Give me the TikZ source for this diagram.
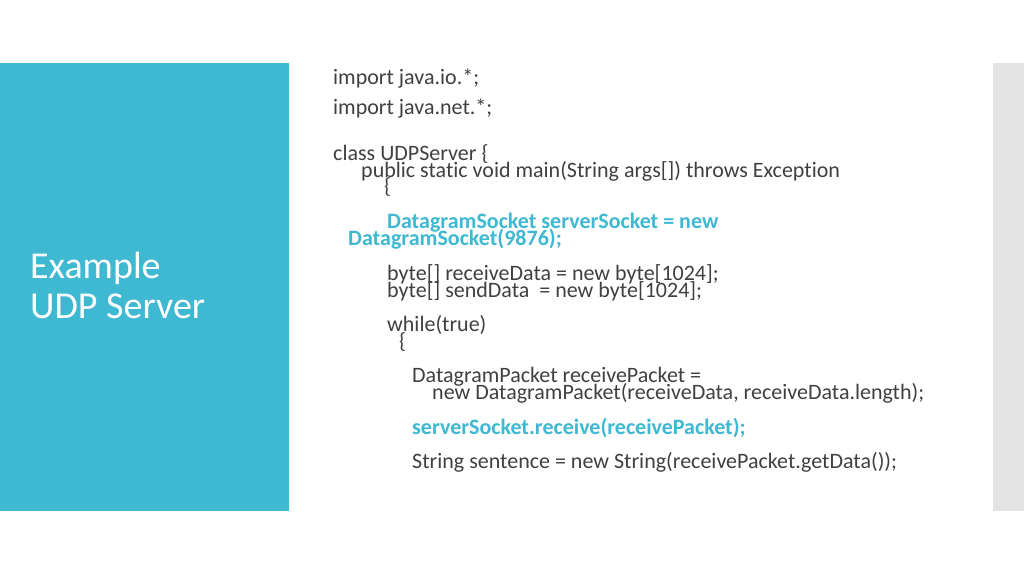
\documentclass[tikz,border=0pt]{standalone}
\usepackage{fontspec}
\setmainfont{Carlito}[Ligatures=NoCommon]
\definecolor{slideteal}{HTML}{3FB8D2}
\definecolor{slidegray}{HTML}{E3E3E3}
\definecolor{codegray}{HTML}{404040}
\begin{document}
\begin{tikzpicture}[x=1pt, y=-1pt,
    code/.style = {anchor=base west, inner sep=0pt, text=codegray, font=\fontsize{22}{26}\selectfont},
    code-hl/.style = {code, text=slideteal, font=\fontsize{22}{26}\selectfont\bfseries},
    title/.style = {anchor=base west, inner sep=0pt, text=white, font=\fontsize{38}{44}\selectfont}]
  \useasboundingbox[fill=white] (0,0) rectangle (1024,576);
  \fill[slideteal] (0,63) rectangle (289,511);
  \fill[slidegray] (993,63) rectangle (1024,511);
  % slide title
  \node [title] (t1) at (30,278) {Example};
  \node [title] (t2) at (30,318) {UDP Server};
  % code listing
  \node [code] (l1) at (333,84) {import java.io.*;};
  \node [code] (l2) at (333,114) {import java.net.*;};
  \node [code] (l3) at (333,160) {class UDPServer \{};
  \node [code] (l4) at (361,177) {public static void main(String args[]) throws Exception};
  \node [code] (l5) at (384,193) {\{};
  \node [code-hl] (l6) at (387,228) {DatagramSocket serverSocket = new};
  \node [code-hl] (l7) at (348,245) {DatagramSocket(9876);};
  \node [code] (l8) at (387,280) {byte[] receiveData = new byte[1024];};
  \node [code] (l9) at (387,297) {byte[] sendData\ \ = new byte[1024];};
  \node [code] (l10) at (387,331) {while(true)};
  \node [code] (l11) at (399,348) {\{};
  \node [code] (l12) at (412,382) {DatagramPacket receivePacket =};
  \node [code] (l13) at (432,399) {new DatagramPacket(receiveData, receiveData.length);};
  \node [code-hl] (l14) at (412,434) {serverSocket.receive(receivePacket);};
  \node [code] (l15) at (412,468) {String sentence = new String(receivePacket.getData());};
\end{tikzpicture}
\end{document}
